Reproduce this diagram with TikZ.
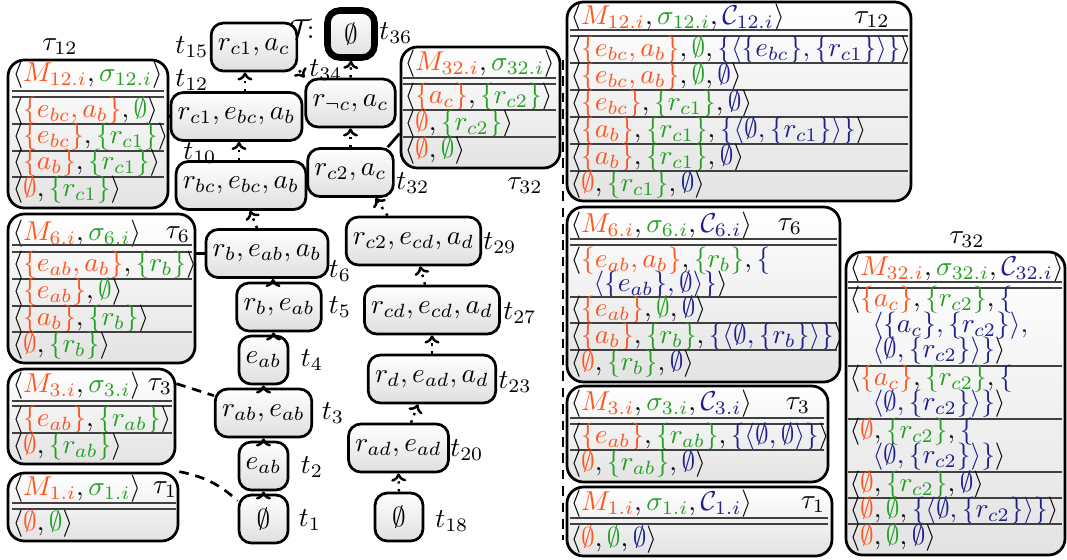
\documentclass[tikz,border=0pt]{standalone}
\usetikzlibrary{arrows.meta,calc,fit}
\definecolor{colM}{RGB}{255,85,30}
\definecolor{colS}{RGB}{34,160,34}
\definecolor{colC}{RGB}{30,30,140}
\newcommand{\pxu}{0.366pt}
\newcommand{\cM}[1]{{\color{colM}#1}}
\newcommand{\cS}[1]{{\color{colS}#1}}
\newcommand{\cC}[1]{{\color{colC}#1}}
\newcommand{\lng}{\langle}
\newcommand{\rng}{\rangle}
\newcommand{\ES}{\emptyset}
\begin{document}
\begin{tikzpicture}[x=0.366pt,y=-0.366pt,
  cn/.style={draw, line width=1pt, rounded corners=4.5pt, top color=white, bottom color=gray!25,
     minimum height=48*\pxu, inner xsep=2.5pt, inner ysep=0pt},
  tb/.style={draw, line width=1pt, rounded corners=6pt, top color=white, bottom color=gray!22, inner sep=0pt},
  tx/.style={anchor=west, inner sep=0pt},
  lb/.style={inner sep=0pt},
  rl/.style={line width=0.6pt, black!75},
  ar/.style={dotted, line width=0.9pt, -{To[length=3pt,width=5.5pt]}},
  dsh/.style={line width=1pt, dash pattern=on 3.5pt off 2.5pt},
  sl/.style={line width=1pt}]
\useasboundingbox (0,0) rectangle (1067,559);

% ---------- left tables ----------
\node[tb, fit={(8,60)(168,208)}] (L12) {};
\node[lb] (L12t) at (60,47) {$\tau_{12}$};
\node[tx] at (12,75) {$\lng\cM{M_{12.i}}, \cS{\sigma_{12.i}}\rng$};
\draw[rl] (12,91) -- (164,91) (12,97) -- (164,97);
\node[tx] at (12,111) {$\lng\cM{\{e_{bc}, a_b\}}, \cS{\ES}\rng$};
\draw[rl] (12,124) -- (164,124);
\node[tx] at (12,137) {$\lng\cM{\{e_{bc}\}}, \cS{\{r_{c1}\}}\rng$};
\draw[rl] (12,151) -- (164,151);
\node[tx] at (12,163) {$\lng\cM{\{a_b\}}, \cS{\{r_{c1}\}}\rng$};
\draw[rl] (12,177) -- (164,177);
\node[tx] at (12,190) {$\lng\cM{\ES}, \cS{\{r_{c1}\}}\rng$};

\node[tb, fit={(8,214)(195,363)}] (L6) {};
\node[tx] at (12,234) {$\lng\cM{M_{6.i}}, \cS{\sigma_{6.i}}\rng$};
\node[lb] at (178,235) {$\tau_{6}$};
\draw[rl] (12,245) -- (192,245) (12,252) -- (192,252);
\node[tx] at (12,265) {$\lng\cM{\{e_{ab}, a_b\}}, \cS{\{r_b\}}\rng$};
\draw[rl] (12,279) -- (192,279);
\node[tx] at (12,292) {$\lng\cM{\{e_{ab}\}}, \cS{\ES}\rng$};
\draw[rl] (12,306) -- (192,306);
\node[tx] at (12,319) {$\lng\cM{\{a_b\}}, \cS{\{r_b\}}\rng$};
\draw[rl] (12,332) -- (192,332);
\node[tx] at (12,346) {$\lng\cM{\ES}, \cS{\{r_b\}}\rng$};

\node[tb, fit={(8,369)(175,464)}] (L3) {};
\node[tx] at (12,386) {$\lng\cM{M_{3.i}}, \cS{\sigma_{3.i}}\rng$};
\node[lb] at (160,387) {$\tau_{3}$};
\draw[rl] (12,401) -- (172,401) (12,406) -- (172,406);
\node[tx] at (12,420) {$\lng\cM{\{e_{ab}\}}, \cS{\{r_{ab}\}}\rng$};
\draw[rl] (12,433) -- (172,433);
\node[tx] at (12,447) {$\lng\cM{\ES}, \cS{\{r_{ab}\}}\rng$};

\node[tb, fit={(8,473)(178,541)}] (L1) {};
\node[tx] at (12,489) {$\lng\cM{M_{1.i}}, \cS{\sigma_{1.i}}\rng$};
\node[lb] at (165,490) {$\tau_{1}$};
\draw[rl] (12,503) -- (176,503) (12,509) -- (176,509);
\node[tx] at (12,524) {$\lng\cM{\ES}, \cS{\ES}\rng$};

% ---------- middle tau32 ----------
\node[tb, fit={(401,47)(560,168)}] (M32) {};
\node[tx] at (404,64) {$\lng\cM{M_{32.i}}, \cS{\sigma_{32.i}}\rng$};
\draw[rl] (403,78) -- (556,78) (403,84) -- (556,84);
\node[tx] at (404,97) {$\lng\cM{\{a_c\}}, \cS{\{r_{c2}\}}\rng$};
\draw[rl] (403,110) -- (556,110);
\node[tx] at (404,124) {$\lng\cM{\ES}, \cS{\{r_{c2}\}}\rng$};
\draw[rl] (403,137) -- (556,137);
\node[tx] at (404,151) {$\lng\cM{\ES}, \cS{\ES}\rng$};
\node[lb] at (525,186) {$\tau_{32}$};

% ---------- centre nodes ----------
\node[cn, minimum width=82*\pxu] (n15) at (254,47) {$r_{c1}, a_c$};
\node[cn, minimum width=47*\pxu, minimum height=47*\pxu, line width=2.4pt] (n36) at (351,34) {$\emptyset$};
\node[cn, minimum width=127*\pxu] (n12) at (236.5,116.5) {$r_{c1}, e_{bc}, a_b$};
\node[cn, minimum width=85*\pxu] (n34) at (350.5,103) {$r_{\neg c}, a_c$};
\node[cn, minimum width=128*\pxu] (n10) at (241,185.5) {$r_{bc}, e_{bc}, a_b$};
\node[cn, minimum width=83*\pxu] (n32) at (350.5,172.5) {$r_{c2}, a_c$};
\node[cn, minimum width=120*\pxu] (n6) at (267,253.5) {$r_b, e_{ab}, a_b$};
\node[cn, minimum width=82*\pxu] (n5) at (279,307) {$r_b, e_{ab}$};
\node[cn, minimum width=49*\pxu] (n4) at (263.5,360) {$e_{ab}$};
\node[cn, minimum width=95*\pxu] (n3) at (263.5,413) {$r_{ab}, e_{ab}$};
\node[cn, minimum width=49*\pxu] (n2) at (263.5,466) {$e_{ab}$};
\node[cn, minimum width=49*\pxu] (n1) at (263.5,519) {$\emptyset$};
\node[cn, minimum width=131*\pxu] (n29) at (413.5,241) {$r_{c2}, e_{cd}, a_d$};
\node[cn, minimum width=132*\pxu] (n27) at (432,310) {$r_{cd}, e_{cd}, a_d$};
\node[cn, minimum width=124*\pxu] (n23) at (432,379) {$r_d, e_{ad}, a_d$};
\node[cn, minimum width=97*\pxu] (n20) at (398.5,448) {$r_{ad}, e_{ad}$};
\node[cn, minimum width=48*\pxu] (n18) at (399,517) {$\emptyset$};

% labels
\node[lb] at (192,47) {$t_{15}$};
\node[lb] at (302,29) {$\mathcal{T}\!$:};
\node[lb] at (396,33) {$t_{36}$};
\node[lb] at (192,80) {$t_{12}$};
\node[lb] at (326,70) {$t_{34}$};
\node[lb] at (200,153) {$t_{10}$};
\node[lb] at (413,183) {$t_{32}$};
\node[lb] at (340,271) {$t_{6}$};
\node[lb] at (340,307) {$t_{5}$};
\node[lb] at (312,360) {$t_{4}$};
\node[lb] at (333,413) {$t_{3}$};
\node[lb] at (312,467) {$t_{2}$};
\node[lb] at (310,520) {$t_{1}$};
\node[lb] at (500,243) {$t_{29}$};
\node[lb] at (520,313) {$t_{27}$};
\node[lb] at (515,382) {$t_{23}$};
\node[lb] at (467,450) {$t_{20}$};
\node[lb] at (452,521) {$t_{18}$};

% arrows
\draw[ar] (n1.north) -- (n2.south);
\draw[ar] (n2.north) -- (n3.south);
\draw[ar] (n3.north) -- (n4.south);
\draw[ar] ($(n4.north)+(10,0)$) -- ($(n5.south)+(-5.5,0)$);
\draw[ar] ($(n5.north)+(-6,0)$) -- ($(n6.south)+(6,0)$);
\draw[ar] ($(n6.north)+(-10,0)$) -- ($(n10.south)+(9,0)$);
\draw[ar] ($(n10.north)+(-2,0)$) -- ($(n12.south)+(2.5,0)$);
\draw[ar] ($(n12.north)+(8.5,0)$) -- ($(n15.south)+(-9,0)$);
\draw[ar] ($(n15.south east)+(1,-2)$) -- (n34.north west);
\draw[ar] (n34.north) -- (n36.south);
\draw[ar] (n32.north) -- (n34.south);
\draw[ar] ($(n29.north)+(-26,0)$) -- ($(n32.south)+(25,0)$);
\draw[ar] ($(n27.north)+(-7,0)$) -- ($(n29.south)+(6.5,0)$);
\draw[ar] (n23.north) -- (n27.south);
\draw[ar] ($(n20.north)+(12.5,0)$) -- ($(n23.south)+(-14,0)$);
\draw[ar] (n18.north) -- (n20.south);

% table links
\draw[sl] (L12.east |- n12.west) -- (n12.west);
\draw[sl] (L6.east |- n6.west) -- (n6.west);
\draw[dsh] ($(L3.north east)+(0,16)$) -- ($(n3.north west)+(0,8)$);
\draw[dsh] (L1.north east) to[bend left=15] ($(n1.north west)+(0,7)$);
\draw[sl] ($(n32.north east)+(-7,0)$) -- ($(M32.west)+(0,26)$);

% separator
\coordinate (sepA) at (563,60);
\coordinate (sepB) at (563,540);
\draw[dsh] (sepA) -- (sepB);

% ---------- right tables ----------
\node[tb, fit={(567,2)(911,201)}] (R12) {};
\node[tx] at (570,18) {$\lng\cM{M_{12.i}}, \cS{\sigma_{12.i}}, \cC{\mathcal{C}_{12.i}}\rng$};
\node[lb] at (872,20) {$\tau_{12}$};
\draw[rl] (570,30) -- (908,30) (570,36) -- (908,36);
\node[tx] at (570,50) {$\lng\cM{\{e_{bc}, a_b\}}, \cS{\ES}, \cC{\{\lng\{e_{bc}\}, \{r_{c1}\}\rng\}}\rng$};
\draw[rl] (570,63) -- (908,63);
\node[tx] at (570,77) {$\lng\cM{\{e_{bc}, a_b\}}, \cS{\ES}, \cC{\ES}\rng$};
\draw[rl] (570,90) -- (908,90);
\node[tx] at (570,104) {$\lng\cM{\{e_{bc}\}}, \cS{\{r_{c1}\}}, \cC{\ES}\rng$};
\draw[rl] (570,117) -- (908,117);
\node[tx] at (570,131) {$\lng\cM{\{a_b\}}, \cS{\{r_{c1}\}}, \cC{\{\lng\ES, \{r_{c1}\}\rng\}}\rng$};
\draw[rl] (570,144) -- (908,144);
\node[tx] at (570,158) {$\lng\cM{\{a_b\}}, \cS{\{r_{c1}\}}, \cC{\ES}\rng$};
\draw[rl] (570,171) -- (908,171);
\node[tx] at (570,185) {$\lng\cM{\ES}, \cS{\{r_{c1}\}}, \cC{\ES}\rng$};

\node[tb, fit={(567,207)(840,382)}] (R6) {};
\node[tx] at (570,226) {$\lng\cM{M_{6.i}}, \cS{\sigma_{6.i}}, \cC{\mathcal{C}_{6.i}}\rng$};
\node[lb] at (790,227) {$\tau_{6}$};
\draw[rl] (570,239) -- (837,239) (570,245) -- (837,245);
\node[tx] at (570,261) {$\lng\cM{\{e_{ab}, a_b\}}, \cS{\{r_b\}}, \cC{\{}$};
\node[tx] at (593,285) {$\cC{\lng\{e_{ab}\}, \ES\rng\}}\rng$};
\draw[rl] (570,297) -- (837,297);
\node[tx] at (570,310) {$\lng\cM{\{e_{ab}\}}, \cS{\ES}, \cC{\ES}\rng$};
\draw[rl] (570,323) -- (837,323);
\node[tx] at (570,337) {$\lng\cM{\{a_b\}}, \cS{\{r_b\}}, \cC{\{\lng\ES, \{r_b\}\rng\}}\rng$};
\draw[rl] (570,350) -- (837,350);
\node[tx] at (570,364) {$\lng\cM{\ES}, \cS{\{r_b\}}, \cC{\ES}\rng$};

\node[tb, fit={(567,386)(828,482)}] (R3) {};
\node[tx] at (570,404) {$\lng\cM{M_{3.i}}, \cS{\sigma_{3.i}}, \cC{\mathcal{C}_{3.i}}\rng$};
\node[lb] at (798,406) {$\tau_{3}$};
\draw[rl] (570,418) -- (824,418) (570,424) -- (824,424);
\node[tx] at (570,437) {$\lng\cM{\{e_{ab}\}}, \cS{\{r_{ab}\}}, \cC{\{\lng\ES, \ES\rng\}}\rng$};
\draw[rl] (570,450) -- (824,450);
\node[tx] at (570,464) {$\lng\cM{\ES}, \cS{\{r_{ab}\}}, \cC{\ES}\rng$};

\node[tb, fit={(567,487)(832,556)}] (R1) {};
\node[tx] at (570,504) {$\lng\cM{M_{1.i}}, \cS{\sigma_{1.i}}, \cC{\mathcal{C}_{1.i}}\rng$};
\node[lb] at (813,505) {$\tau_{1}$};
\draw[rl] (570,518) -- (828,518) (570,524) -- (828,524);
\node[tx] at (570,540) {$\lng\cM{\ES}, \cS{\ES}, \cC{\ES}\rng$};

\node[tb, fit={(846,252)(1065,555)}] (R32) {};
\node[lb] at (967,240) {$\tau_{32}$};
\node[tx] at (849,269) {$\lng\cM{M_{32.i}}, \cS{\sigma_{32.i}}, \cC{\mathcal{C}_{32.i}}\rng$};
\draw[rl] (848,282) -- (1062,282) (848,288) -- (1062,288);
\node[tx] at (849,300) {$\lng\cM{\{a_c\}}, \cS{\{r_{c2}\}}, \cC{\{}$};
\node[tx] at (872,326) {$\cC{\lng\{a_c\}, \{r_{c2}\}\rng,}$};
\node[tx] at (872,351) {$\cC{\lng\ES, \{r_{c2}\}\rng\}}\rng$};
\draw[rl] (848,366) -- (1062,366);
\node[tx] at (849,379) {$\lng\cM{\{a_c\}}, \cS{\{r_{c2}\}}, \cC{\{}$};
\node[tx] at (872,404) {$\cC{\lng\ES, \{r_{c2}\}\rng\}}\rng$};
\draw[rl] (848,419) -- (1062,419);
\node[tx] at (849,432) {$\lng\cM{\ES}, \cS{\{r_{c2}\}}, \cC{\{}$};
\node[tx] at (872,457) {$\cC{\lng\ES, \{r_{c2}\}\rng\}}\rng$};
\draw[rl] (848,472) -- (1062,472);
\node[tx] at (849,485) {$\lng\cM{\ES}, \cS{\{r_{c2}\}}, \cC{\ES}\rng$};
\draw[rl] (848,498) -- (1062,498);
\node[tx] at (849,511) {$\lng\cM{\ES}, \cS{\ES}, \cC{\{\lng\ES, \{r_{c2}\}\rng\}}\rng$};
\draw[rl] (848,524) -- (1062,524);
\node[tx] at (849,538) {$\lng\cM{\ES}, \cS{\ES}, \cC{\ES}\rng$};
\end{tikzpicture}
\end{document}
